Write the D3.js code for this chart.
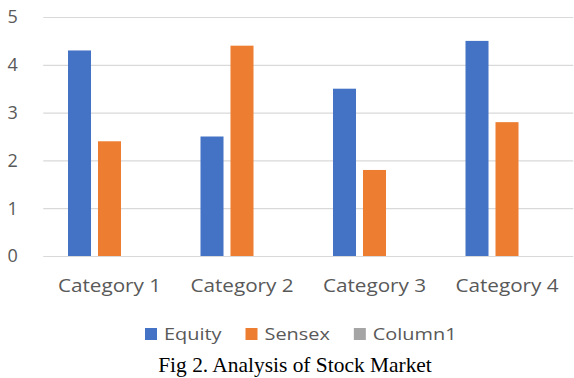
<!DOCTYPE html>
<html>
<head>
<meta charset="utf-8">
<script src="https://cdn.jsdelivr.net/npm/d3@7"></script>
<style>
  html, body { margin: 0; padding: 0; background: #fff; }
  svg { display: block; }
</style>
</head>
<body>
<svg id="chart" width="574" height="378"></svg>
<script>
const categories = ["Category 1", "Category 2", "Category 3", "Category 4"];
const seriesNames = ["Equity", "Sensex", "Column1"];
const equity = [4.3, 2.5, 3.5, 4.5];
const sensex = [2.4, 4.4, 1.8, 2.8];
const column1 = [null, null, null, null];
const yTicks = [0, 1, 2, 3, 4, 5];
const caption = "Fig 2. Analysis of Stock Market";

const colors = ["#4472C4", "#ED7D31", "#A5A5A5"];
const series = [equity, sensex, column1];
const textColor = "#595959";
const sansFont = "Open Sans";

const svg = d3.select("#chart");
const plotLeft = 43.25, plotRight = 573.25, plotTop = 17, plotBottom = 256;

const x = d3.scaleBand().domain(categories).range([plotLeft, plotRight]).paddingInner(0).paddingOuter(0);
const xs = d3.scaleBand().domain(seriesNames).range([0, x.bandwidth()]).paddingInner(0.233).paddingOuter(0.825);
const y = d3.scaleLinear().domain([0, 5]).range([plotBottom, plotTop]);

// gridlines + y labels
const yAxis = d3.axisLeft(y).tickValues(yTicks).tickSize(-(plotRight - plotLeft)).tickFormat(d3.format("d"));
const gy = svg.append("g").attr("transform", `translate(${plotLeft},0)`).call(yAxis);
gy.select(".domain").remove();
gy.selectAll(".tick line").attr("stroke", "#d9d9d9").attr("stroke-width", 1.2);
gy.selectAll(".tick text").attr("fill", textColor).attr("font-family", sansFont).attr("font-size", 18)
  .attr("x", -30.5).attr("text-anchor", "middle").attr("dy", "0.33em");

// bars
const rows = categories.map((c, i) => ({ c, vals: series.map((s, j) => ({ name: seriesNames[j], v: s[i], color: colors[j] })) }));
const groups = svg.append("g").selectAll("g").data(rows).join("g")
  .attr("transform", d => `translate(${x(d.c)},0)`);
groups.selectAll("rect").data(d => d.vals.filter(v => v.v != null)).join("rect")
  .attr("x", d => xs(d.name))
  .attr("width", xs.bandwidth())
  .attr("y", d => y(d.v))
  .attr("height", d => y(0) - y(d.v))
  .attr("fill", d => d.color);

// x axis labels
const xAxis = d3.axisBottom(x).tickSize(0).tickPadding(0);
const gx = svg.append("g").attr("transform", `translate(0,${plotBottom})`).call(xAxis);
gx.select(".domain").remove();
gx.selectAll(".tick text").attr("fill", textColor).attr("font-family", sansFont).attr("font-size", 18)
  .attr("y", 36).attr("dy", null).attr("transform", "scale(1.15,1)");

// legend
const legendScale = 1.17;
let lx = 145;
seriesNames.forEach((name, i) => {
  const g = svg.append("g");
  g.append("rect").attr("x", lx).attr("y", 328).attr("width", 12).attr("height", 12).attr("fill", colors[i]);
  const t = g.append("text").attr("transform", `translate(${lx + 19},340) scale(${legendScale},1)`)
    .attr("fill", textColor).attr("font-family", sansFont).attr("font-size", 17).text(name);
  const w = t.node().getComputedTextLength() * legendScale;
  lx += 19 + w + 24;
});

// caption
svg.append("text").attr("transform", "translate(295,371.5) scale(1.02,1)").attr("text-anchor", "middle")
  .attr("font-family", "Liberation Serif").attr("font-size", 21).attr("fill", "#000").text(caption);
</script>
</body>
</html>
